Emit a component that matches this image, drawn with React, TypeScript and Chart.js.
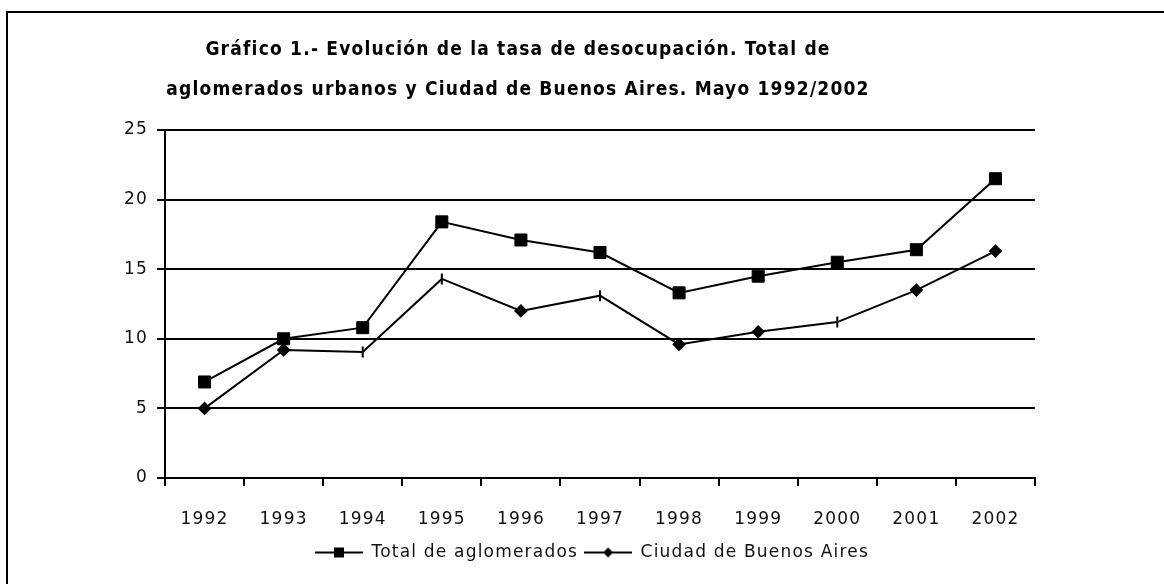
import React, { useEffect, useRef } from "react";
import { Chart, registerables } from "chart.js";

Chart.register(...registerables);

const years = ["1992", "1993", "1994", "1995", "1996", "1997", "1998", "1999", "2000", "2001", "2002"];
const totalAglomerados = [6.9, 10.0, 10.8, 18.4, 17.1, 16.2, 13.3, 14.5, 15.5, 16.4, 21.5];
const ciudadBuenosAires = [5.0, 9.2, 9.05, 14.3, 12.0, 13.1, 9.6, 10.5, 11.2, 13.5, 16.3];
const ciudadMarkers = ["rectRot", "rectRot", "line", "line", "rectRot", "line", "rectRot", "rectRot", "line", "rectRot", "rectRot"];
const ciudadRotation = [0, 0, 90, 90, 0, 90, 0, 0, 90, 0, 0];
const titleLines = [
  "Gráfico 1.- Evolución de la tasa de desocupación. Total de",
  "aglomerados urbanos y Ciudad de Buenos Aires. Mayo 1992/2002",
];
const seriesLabels = ["Total de aglomerados", "Ciudad de Buenos Aires"];

function legendImage(kind: "square" | "diamond"): HTMLCanvasElement {
  const c = document.createElement("canvas");
  c.width = 48;
  c.height = 14;
  const ctx = c.getContext("2d")!;
  ctx.strokeStyle = "#000";
  ctx.fillStyle = "#000";
  ctx.lineWidth = 2;
  ctx.beginPath();
  ctx.moveTo(0, 7);
  ctx.lineTo(48, 7);
  ctx.stroke();
  ctx.beginPath();
  if (kind === "square") {
    ctx.rect(19, 2, 10, 10);
  } else {
    ctx.moveTo(24, 2);
    ctx.lineTo(29, 7);
    ctx.lineTo(24, 12);
    ctx.lineTo(19, 7);
    ctx.closePath();
  }
  ctx.fill();
  return c;
}

const spacingPlugin = {
  id: "letterSpacing",
  beforeUpdate(chart: any) {
    chart.ctx.letterSpacing = "1.2px";
  },
  afterLayout(chart: any) {
    if (chart.legend) {
      chart.legend.left += 74;
      chart.legend.right += 74;
    }
  },
  beforeDraw(chart: any) {
    chart.ctx.letterSpacing = "1.2px";
  },
};

export default function App() {
  const ref = useRef<HTMLCanvasElement | null>(null);
  useEffect(() => {
    if (!ref.current) return;
    const imgs = [legendImage("square"), legendImage("diamond")];
    const chart = new Chart(ref.current, {
      type: "line",
      plugins: [spacingPlugin],
      data: {
        labels: years,
        datasets: [
          {
            label: seriesLabels[0],
            data: totalAglomerados,
            borderColor: "#000",
            backgroundColor: "#000",
            borderWidth: 2,
            pointStyle: "rect",
            pointRadius: 8.5,
            pointBorderWidth: 1,
            pointBackgroundColor: "#000",
            pointBorderColor: "#000",
            tension: 0,
          },
          {
            label: seriesLabels[1],
            data: ciudadBuenosAires,
            borderColor: "#000",
            backgroundColor: "#000",
            borderWidth: 2,
            pointStyle: ciudadMarkers as any,
            pointRotation: ciudadRotation,
            pointRadius: 5.5,
            pointBorderWidth: 2,
            pointBackgroundColor: "#000",
            pointBorderColor: "#000",
            tension: 0,
          },
        ],
      },
      options: {
        responsive: false,
        animation: false,
        devicePixelRatio: 1,
        layout: { padding: { left: 1, right: 129, top: 8, bottom: 13 } },
        plugins: {
          tooltip: { enabled: false },
          title: {
            display: true,
            text: titleLines,
            color: "#000",
            font: { family: "'DejaVu Sans Condensed', 'DejaVu Sans'", size: 19, weight: "bold", lineHeight: "40px" },
            padding: { top: 22, bottom: 20 },
          },
          legend: {
            display: true,
            position: "bottom",
            labels: {
              usePointStyle: true,
              pointStyleWidth: 48,
              color: "#000",
              padding: 6,
              font: { family: "'DejaVu Sans'", size: 17 },
              generateLabels: (ch: any) =>
                ch.data.datasets.map((ds: any, i: number) => ({
                  text: ds.label,
                  pointStyle: imgs[i],
                  fillStyle: "#000",
                  strokeStyle: "#000",
                  lineWidth: 0,
                  hidden: false,
                  datasetIndex: i,
                  fontColor: "#111",
                })),
            },
          },
        },
        scales: {
          x: {
            offset: true,
            afterFit: (s: any) => {
              s.height = 60;
            },
            grid: {
              offset: true,
              drawOnChartArea: false,
              drawTicks: true,
              tickLength: 8,
              color: "#000",
              lineWidth: 2,
            },
            border: { color: "#000", width: 2 },
            ticks: { color: "#111", padding: 23, font: { family: "'DejaVu Sans'", size: 17 } },
          },
          y: {
            min: 0,
            max: 25,
            afterFit: (s: any) => {
              s.width = 164;
            },
            ticks: { stepSize: 5, color: "#111", padding: 9, font: { family: "'DejaVu Sans'", size: 17 } },
            grid: { color: "#000", lineWidth: 2, tickLength: 8, drawTicks: true },
            border: { color: "#000", width: 2 },
          },
        },
      },
    });
    return () => chart.destroy();
  }, []);
  return (
    <div style={{ position: "fixed", left: 0, top: 0, width: 1164, height: 584, background: "#fff", overflow: "hidden" }}>
      <div
        style={{
          position: "absolute",
          left: 6,
          top: 11,
          width: 1200,
          height: 600,
          borderLeft: "2px solid #000",
          borderTop: "2px solid #000",
        }}
      />
      <canvas ref={ref} width={1164} height={584} style={{ position: "absolute", left: 0, top: 0 }} />
    </div>
  );
}
